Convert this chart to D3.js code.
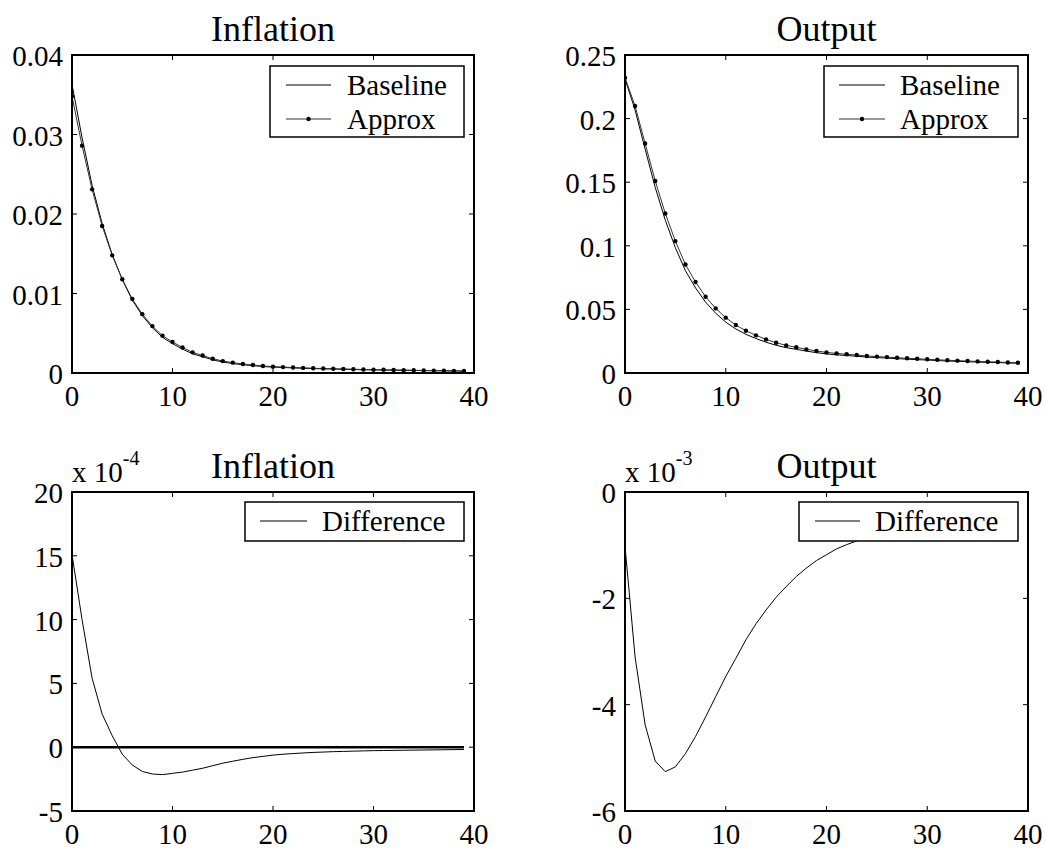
<!DOCTYPE html>
<html><head><meta charset="utf-8">
<script src="https://cdn.jsdelivr.net/npm/d3@7"></script>
<style>body{margin:0;background:#fff}svg{display:block}text{font-family:"Liberation Serif","Times New Roman",serif;fill:#000}</style>
</head><body>
<script>
const periods = d3.range(0, 40);
const xTicks = [0, 10, 20, 30, 40];

const inflApprox = [0.0348,0.0286,0.0231,0.0185,0.0148,0.0118,0.0093,0.0074,0.0059,0.0047,0.0039,0.0032,0.0026,0.0022,0.0018,0.0015,0.0013,0.00113,0.00101,0.00088,0.0008,0.00074,0.00069,0.00064,0.0006,0.00056,0.00053,0.0005,0.00047,0.00044,0.00042,0.0004,0.00038,0.00036,0.00034,0.00032,0.0003,0.00029,0.00027,0.00026];
const inflBaseline = [0.0363,0.0296,0.0236,0.0188,0.0149,0.01175,0.00916,0.00721,0.00569,0.00449,0.0037,0.003,0.00242,0.00204,0.00166,0.00138,0.00119,0.00104,0.00093,0.00081,0.00074,0.00069,0.00064,0.0006,0.00056,0.00052,0.0005,0.00047,0.00044,0.00041,0.00039,0.00037,0.00036,0.00034,0.00032,0.0003,0.00028,0.00027,0.00025,0.00024];
const inflDiff = [15.1,10.0,5.4,2.6,0.9,-0.55,-1.4,-1.9,-2.1,-2.15,-2.05,-1.95,-1.8,-1.65,-1.45,-1.25,-1.1,-0.95,-0.82,-0.72,-0.62,-0.55,-0.5,-0.45,-0.41,-0.38,-0.35,-0.33,-0.31,-0.29,-0.27,-0.26,-0.25,-0.24,-0.23,-0.22,-0.21,-0.2,-0.19,-0.18];

const outApprox = [0.2322,0.2099,0.1804,0.1510,0.1254,0.1037,0.0853,0.0715,0.0599,0.0508,0.0435,0.0377,0.0332,0.0296,0.0264,0.0238,0.0217,0.0202,0.0186,0.0173,0.0162,0.0154,0.0147,0.0141,0.0134,0.0129,0.0125,0.0120,0.0116,0.0112,0.0108,0.0104,0.0100,0.0097,0.0094,0.0091,0.0088,0.0086,0.0083,0.0081];
const outBaseline = [0.2312,0.2068,0.1760,0.1459,0.1201,0.0985,0.0804,0.0669,0.0557,0.0470,0.0400,0.0346,0.0304,0.0271,0.0242,0.0218,0.0199,0.0186,0.0172,0.0160,0.0150,0.0143,0.0137,0.0132,0.0125,0.0121,0.0117,0.0113,0.0109,0.0105,0.0102,0.0098,0.0094,0.0092,0.0089,0.0086,0.0083,0.0082,0.0079,0.0077];
const outDiff = [-1.02,-3.10,-4.38,-5.06,-5.26,-5.17,-4.92,-4.60,-4.23,-3.85,-3.47,-3.13,-2.78,-2.48,-2.22,-1.98,-1.78,-1.59,-1.43,-1.29,-1.18,-1.07,-0.99,-0.92,-0.87,-0.82,-0.77,-0.73,-0.69,-0.65,-0.62,-0.59,-0.56,-0.53,-0.51,-0.49,-0.47,-0.45,-0.43,-0.41];

const inflTicks = [0, 0.01, 0.02, 0.03, 0.04];
const outTicks = [0, 0.05, 0.1, 0.15, 0.2, 0.25];
const inflDiffTicks = [-5, 0, 5, 10, 15, 20];
const outDiffTicks = [-6, -4, -2, 0];

const W = 1046, H = 852;
const svg = d3.select("body").append("svg").attr("width", W).attr("height", H);

function panel(o) {
  const g = svg.append("g");
  const x = d3.scaleLinear().domain([0, 40]).range([o.x0, o.x1]);
  const y = d3.scaleLinear().domain(o.ydom).range([o.y1, o.y0]);
  const tl = 5;
  // tick marks inside on all sides
  xTicks.forEach(t => {
    g.append("line").attr("x1", x(t)).attr("x2", x(t)).attr("y1", o.y1).attr("y2", o.y1 - tl).attr("stroke", "#000").attr("stroke-width", 1);
    g.append("line").attr("x1", x(t)).attr("x2", x(t)).attr("y1", o.y0).attr("y2", o.y0 + tl).attr("stroke", "#000").attr("stroke-width", 1);
    g.append("text").attr("x", x(t)).attr("y", o.y1 + 33).attr("text-anchor", "middle").attr("font-size", 29).text(t);
  });
  o.yticks.forEach(t => {
    g.append("line").attr("x1", o.x0).attr("x2", o.x0 + tl).attr("y1", y(t)).attr("y2", y(t)).attr("stroke", "#000").attr("stroke-width", 1);
    g.append("line").attr("x1", o.x1).attr("x2", o.x1 - tl).attr("y1", y(t)).attr("y2", y(t)).attr("stroke", "#000").attr("stroke-width", 1);
    g.append("text").attr("x", o.x0 - 9).attr("y", y(t) + 11).attr("text-anchor", "end").attr("font-size", 29).text(o.fmt(t));
  });
  // title
  g.append("text").attr("x", (o.x0 + o.x1) / 2).attr("y", o.y0 - 14).attr("text-anchor", "middle").attr("font-size", 36).text(o.title);
  if (o.exp) {
    const t = g.append("text").attr("x", o.x0).attr("y", o.y0 - 10).attr("font-size", 29);
    t.append("tspan").text("x 10");
    t.append("tspan").attr("dy", -17).attr("font-size", 20).text(o.exp);
  }
  const clipId = "clip" + o.id;
  svg.append("clipPath").attr("id", clipId).append("rect").attr("x", o.x0).attr("y", o.y0).attr("width", o.x1 - o.x0).attr("height", o.y1 - o.y0);
  const pg = g.append("g").attr("clip-path", `url(#${clipId})`);
  const line = d3.line().x((d, i) => x(periods[i])).y(d => y(d));
  if (o.zero) {
    pg.append("path").attr("d", d3.line()([[x(0), y(0)], [x(39), y(0)]])).attr("stroke", "#000").attr("stroke-width", 2.5).attr("fill", "none");
  }
  o.series.forEach(s => {
    pg.append("path").attr("d", line(s.values)).attr("fill", "none").attr("stroke", s.color).attr("stroke-width", 1);
    if (s.dots) {
      pg.selectAll(null).data(s.values).enter().append("circle")
        .attr("cx", (d, i) => x(periods[i])).attr("cy", d => y(d)).attr("r", 2.2).attr("fill", "#000");
    }
  });
  // frame
  g.append("rect").attr("x", o.x0).attr("y", o.y0).attr("width", o.x1 - o.x0).attr("height", o.y1 - o.y0)
    .attr("fill", "none").attr("stroke", "#000").attr("stroke-width", 2);
  // legend
  const L = o.legend;
  const lg = g.append("g");
  lg.append("rect").attr("x", L.x).attr("y", L.y).attr("width", L.w).attr("height", L.h).attr("fill", "#fff").attr("stroke", "#000").attr("stroke-width", 1.5);
  o.series.forEach((s, i) => {
    const cy = L.y + 19 + i * 34;
    lg.append("line").attr("x1", L.lx0).attr("x2", L.lx1).attr("y1", cy).attr("y2", cy).attr("stroke", s.color).attr("stroke-width", 1);
    if (s.dots) lg.append("circle").attr("cx", (L.lx0 + L.lx1) / 2).attr("cy", cy).attr("r", 2.2).attr("fill", "#000");
    lg.append("text").attr("x", L.tx).attr("y", cy + 10).attr("font-size", 29).text(s.name);
  });
}

const fmtPlain = d => String(d);

panel({id: 1, x0: 72, x1: 474, y0: 55, y1: 373, ydom: [0, 0.04], yticks: inflTicks, fmt: fmtPlain, title: "Inflation",
  series: [{name: "Baseline", values: inflBaseline, color: "#000"}, {name: "Approx", values: inflApprox, color: "#333", dots: true}],
  legend: {x: 270, y: 66, w: 194, h: 71, lx0: 286, lx1: 331, tx: 347}});
panel({id: 2, x0: 625, x1: 1028, y0: 55, y1: 373, ydom: [0, 0.25], yticks: outTicks, fmt: fmtPlain, title: "Output",
  series: [{name: "Baseline", values: outBaseline, color: "#000"}, {name: "Approx", values: outApprox, color: "#333", dots: true}],
  legend: {x: 824, y: 66, w: 194, h: 71, lx0: 839, lx1: 885, tx: 900}});
panel({id: 3, x0: 72, x1: 474, y0: 492, y1: 811, ydom: [-5, 20], yticks: inflDiffTicks, fmt: fmtPlain, title: "Inflation", exp: "-4", zero: true,
  series: [{name: "Difference", values: inflDiff, color: "#000"}],
  legend: {x: 245, y: 502, w: 219, h: 39, lx0: 260, lx1: 307, tx: 322}});
panel({id: 4, x0: 625, x1: 1028, y0: 492, y1: 811, ydom: [-6, 0], yticks: outDiffTicks, fmt: fmtPlain, title: "Output", exp: "-3",
  series: [{name: "Difference", values: outDiff, color: "#000"}],
  legend: {x: 799, y: 502, w: 219, h: 39, lx0: 815, lx1: 860, tx: 875}});
</script>
</body></html>
